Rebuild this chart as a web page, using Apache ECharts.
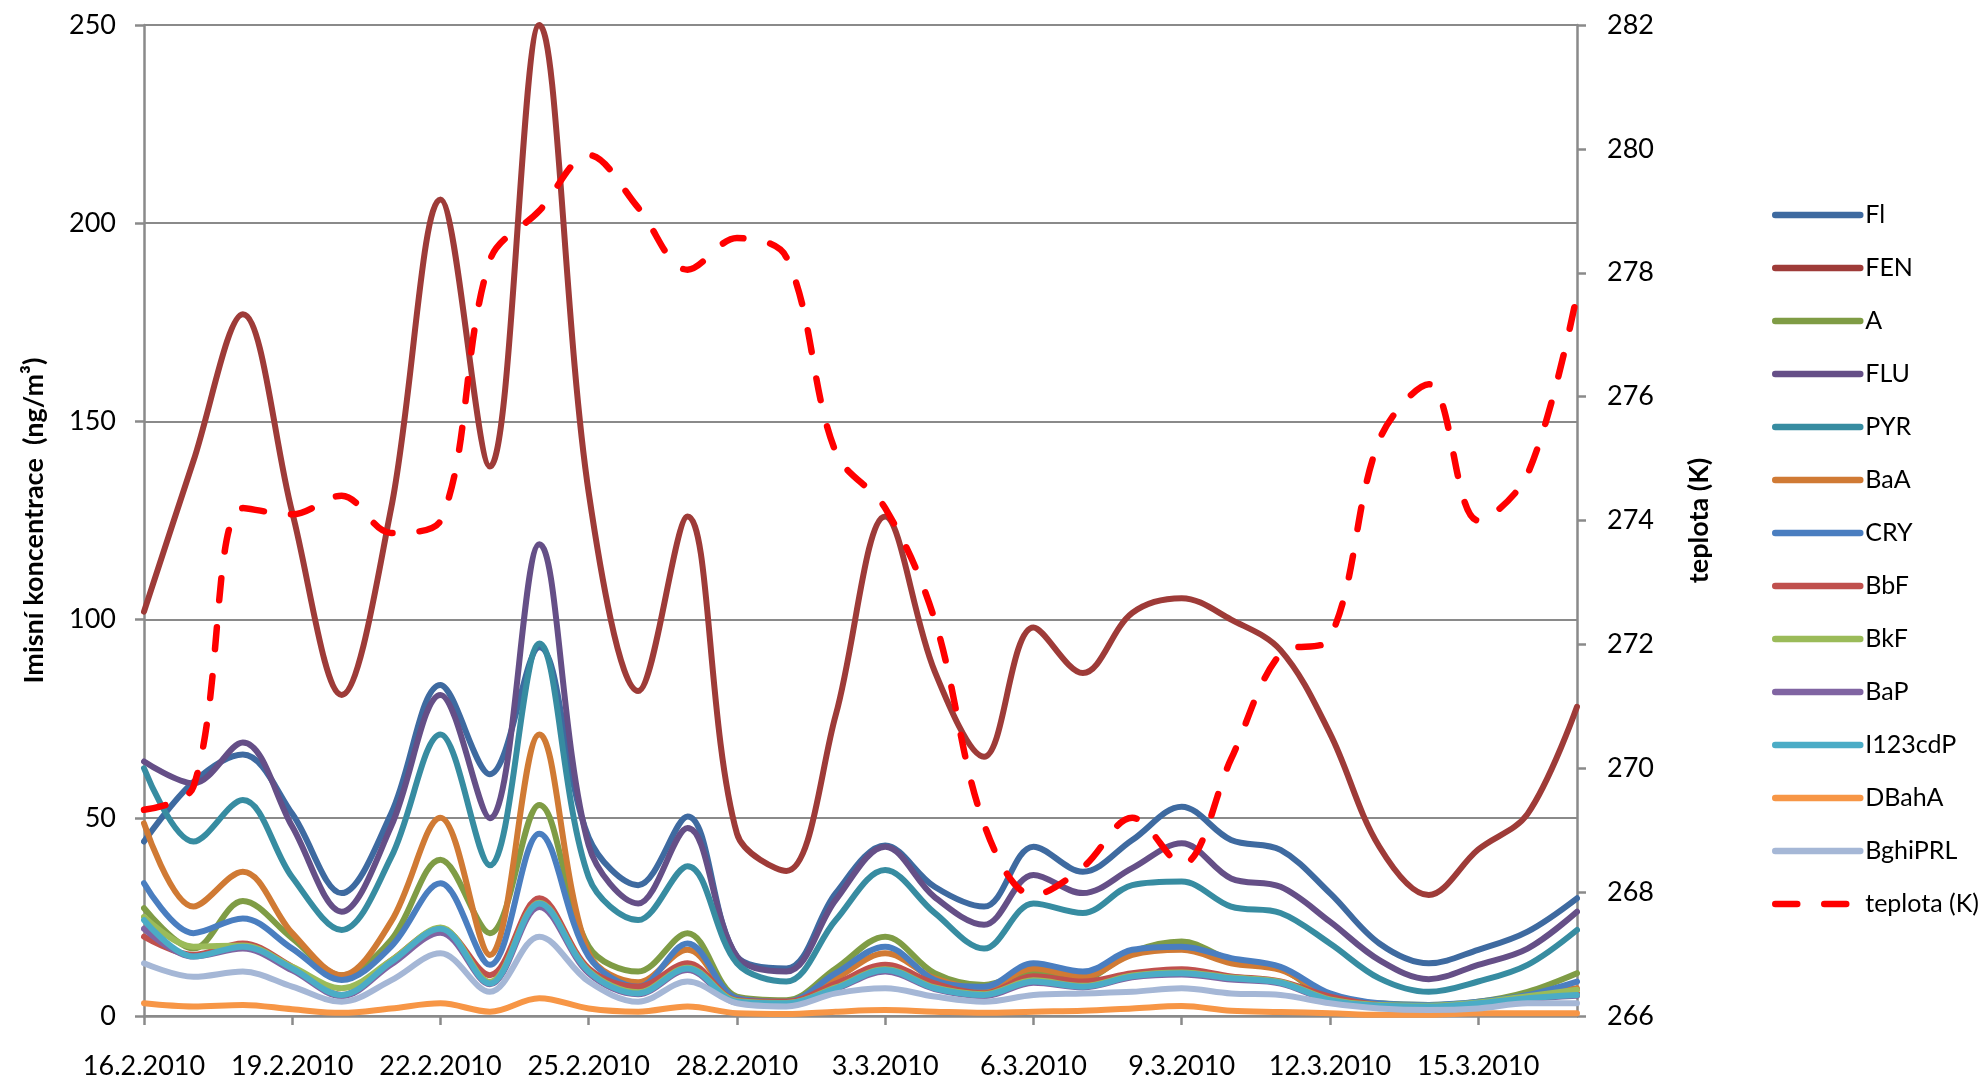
<!DOCTYPE html>
<html>
<head>
<meta charset="utf-8">
<script src="https://cdn.jsdelivr.net/npm/echarts@6/dist/echarts.min.js"></script>
<style>
html,body{margin:0;padding:0;background:#fff;}
#c{width:1982px;height:1082px;}
</style>
</head>
<body>
<div id="c"></div>
<script>
const categories = ['16.2.2010','17.2.2010','18.2.2010','19.2.2010','20.2.2010','21.2.2010','22.2.2010','23.2.2010','24.2.2010','25.2.2010','26.2.2010','27.2.2010','28.2.2010','1.3.2010','2.3.2010','3.3.2010','4.3.2010','5.3.2010','6.3.2010','7.3.2010','8.3.2010','9.3.2010','10.3.2010','11.3.2010','12.3.2010','13.3.2010','14.3.2010','15.3.2010','16.3.2010','17.3.2010'];

const Fl      = [44, 59, 66, 51, 31, 51, 83.5, 61, 93, 45, 33, 50.3, 15, 12, 31, 43, 32.6, 27.6, 42.7, 36.4, 44.4, 52.8, 44.4, 41.9, 31, 18.3, 13.3, 16.7, 21.3, 29.7];
const FEN     = [102, 140, 177, 127, 81, 128, 206, 138.6, 250, 132, 82, 126, 46, 36.6, 76, 126, 87, 65.4, 98, 86.5, 101.7, 105.4, 100, 92.3, 71.3, 42.7, 30.5, 42, 51, 78];
const A       = [27.2, 17, 29, 19.6, 10.3, 19.2, 39.4, 20.9, 53.2, 17.5, 11.2, 20.9, 4.9, 4, 12, 20, 10.8, 7.8, 11.2, 9.5, 16.2, 18.8, 14.1, 12, 4.5, 3.2, 2.8, 3.6, 6.1, 10.8];
const FLU     = [64.2, 58.7, 69, 47.8, 26.3, 47.8, 81, 49.9, 119, 43, 28.4, 47.4, 15, 11.2, 29.3, 42.7, 30, 23, 35.6, 31, 37.3, 43.6, 34.7, 32.6, 23.8, 14.1, 9.3, 12.9, 17, 26.3];
const PYR     = [62.5, 44, 54.5, 35, 21.7, 40, 71, 38, 94, 35, 24.2, 37.8, 13.3, 8.7, 24.2, 36.8, 26, 17, 28.4, 26, 33, 33.9, 27.6, 26, 18.3, 9.5, 6.1, 8.7, 12.9, 21.7];
const BaA     = [48.6, 27.6, 36.4, 20.9, 10.3, 23.8, 50, 15.4, 71, 15.8, 8.5, 16.7, 4.5, 3.6, 9.5, 15.8, 9.5, 7, 12, 9.9, 15.4, 16.7, 13.3, 11.6, 5.3, 3.0, 2.4, 3.2, 4.9, 7];
const CRY     = [33.5, 20.9, 24.6, 17, 9.1, 17.5, 33.5, 12.9, 46, 15, 7.4, 18.3, 4.5, 3.6, 10.8, 17.5, 9.1, 7.4, 13.3, 11.2, 16.7, 17.5, 14.6, 12.4, 5.7, 3.2, 2.8, 3.6, 5.3, 8.7];
const BbF     = [20, 15.4, 18.3, 12.4, 5.3, 14, 22, 10.3, 29.7, 12, 7.4, 13.3, 4, 3.6, 8.2, 12.9, 8.2, 5.7, 10, 8.7, 10.8, 11.8, 10, 8.7, 4.9, 2.8, 2.2, 3, 4.2, 5.8];
const BkF     = [25, 17.5, 17.8, 12.4, 7, 14, 22.3, 8.6, 28.6, 11.4, 6, 12.2, 3.8, 3.3, 7.2, 11.8, 7.2, 5.5, 9, 7.6, 10.2, 11, 9.7, 8.6, 4.2, 2.8, 2.6, 3.4, 5, 6.6];
const BaP     = [22, 15, 17, 11.5, 5, 13, 21, 8, 27.5, 10.8, 5.5, 11.6, 3.4, 3, 6.8, 11.2, 6.8, 5, 8.4, 7.2, 9.8, 10.5, 9.2, 8.2, 3.8, 2.5, 2.2, 3, 4.3, 5.1];
const I123cdP = [24.2, 15, 17.5, 12, 5.3, 13.6, 22, 8.2, 28.4, 11.2, 5.7, 12, 3.6, 3.2, 7, 11.6, 7, 5.3, 8.7, 7.4, 10, 10.8, 9.5, 8.4, 4, 2.6, 2.4, 3.2, 4.5, 5.3];
const DBahA   = [3.2, 2.4, 2.8, 1.7, 0.8, 1.9, 3.2, 1.1, 4.5, 1.9, 1.1, 2.4, 0.7, 0.5, 1.1, 1.5, 1.1, 0.8, 1.1, 1.3, 1.9, 2.5, 1.3, 1, 0.7, 0.3, 0.3, 0.7, 0.7, 0.7];
const BghiPRL = [13.3, 9.9, 11.2, 7.4, 3.6, 9, 15.8, 6.1, 20, 8.7, 3.6, 8.7, 3.2, 2.4, 5.7, 7, 4.9, 3.6, 5.3, 5.7, 6.1, 7, 5.7, 5.3, 3.2, 1.9, 1.5, 1.9, 3.2, 3.2];
const teplota = [269.33, 269.7, 274.2, 274.1, 274.4, 273.8, 274.0, 278.2, 279.0, 279.9, 279.05, 278.05, 278.56, 278.25, 275.1, 274.2, 272.4, 269.1, 267.95, 268.4, 269.2, 268.45, 270.15, 271.85, 272.1, 275.3, 276.2, 274.0, 274.75, 277.65];

const leftTicks = {min: 0, max: 250, interval: 50};
const rightTicks = {min: 266, max: 282, interval: 2};

const FONT = 'Lato';
const pahSeries = [
  ['Fl', Fl, '#3E6AA0'],
  ['FEN', FEN, '#9E3B38'],
  ['A', A, '#7F9C45'],
  ['FLU', FLU, '#654F87'],
  ['PYR', PYR, '#378CA1'],
  ['BaA', BaA, '#D07A34'],
  ['CRY', CRY, '#4A7EC0'],
  ['BbF', BbF, '#C0504D'],
  ['BkF', BkF, '#9BBB59'],
  ['BaP', BaP, '#8064A2'],
  ['I123cdP', I123cdP, '#4BACC6'],
  ['DBahA', DBahA, '#F79646'],
  ['BghiPRL', BghiPRL, '#A5B7D6']
];

const series = pahSeries.map(([name, data, color]) => ({
  name, type: 'line', data, yAxisIndex: 0,
  smooth: 0.35, symbol: 'none', showSymbol: false,
  color,
  lineStyle: {color, width: 6, cap: 'round', join: 'round'},
  emphasis: {disabled: true}
}));
series.push({
  name: 'teplota (K)', type: 'line', data: teplota, yAxisIndex: 1,
  smooth: 0.35, symbol: 'none', showSymbol: false,
  color: '#FF0000',
  lineStyle: {color: '#FF0000', width: 6.5, type: [22, 27], cap: 'round', join: 'round'},
  emphasis: {disabled: true}
});

const axisGray = '#8A8A8A';
const chart = echarts.init(document.getElementById('c'));
chart.setOption({
  animation: false,
  backgroundColor: '#fff',
  textStyle: {fontFamily: FONT},
  grid: {left: 144, right: 405, top: 25, bottom: 66, containLabel: false},
  legend: {
    orient: 'vertical', left: 1767, top: 195,
    itemWidth: 85, itemHeight: 2, itemGap: 23,
    lineStyle: {width: 6.5, cap: 'round'},
    itemStyle: {opacity: 0, borderWidth: 0},
    textStyle: {fontFamily: FONT, fontSize: 25, color: '#000', lineHeight: 30},
    data: series.map(s => s.name)
  },
  xAxis: {
    type: 'category', data: categories, boundaryGap: false,
    axisLine: {lineStyle: {color: axisGray, width: 2.5}},
    axisTick: {show: true, interval: 2, length: 9, lineStyle: {color: axisGray, width: 2.5}},
    axisLabel: {interval: 2, margin: 37, fontFamily: FONT, fontSize: 27, color: '#000'},
    splitLine: {show: false}
  },
  yAxis: [{
    type: 'value', min: leftTicks.min, max: leftTicks.max, interval: leftTicks.interval,
    name: 'Imisní koncentrace  (ng/m³)', nameLocation: 'middle', nameGap: 96,
    nameTextStyle: {fontFamily: FONT, fontSize: 27, fontWeight: 'bold', color: '#000'},
    axisLine: {show: true, lineStyle: {color: axisGray, width: 2.5}},
    axisTick: {show: true, length: 9, lineStyle: {color: axisGray, width: 2.5}},
    axisLabel: {margin: 28, fontFamily: FONT, fontSize: 27, color: '#000'},
    splitLine: {show: true, lineStyle: {color: axisGray, width: 2}}
  }, {
    type: 'value', min: rightTicks.min, max: rightTicks.max, interval: rightTicks.interval,
    position: 'right',
    name: 'teplota (K)', nameLocation: 'middle', nameGap: 109, nameRotate: 90,
    nameTextStyle: {fontFamily: FONT, fontSize: 27, fontWeight: 'bold', color: '#000'},
    axisLine: {show: true, lineStyle: {color: axisGray, width: 2.5}},
    axisTick: {show: true, length: 9, lineStyle: {color: axisGray, width: 2.5}},
    axisLabel: {margin: 30, fontFamily: FONT, fontSize: 27, color: '#000'},
    splitLine: {show: false}
  }],
  series
});
</script>
</body>
</html>
